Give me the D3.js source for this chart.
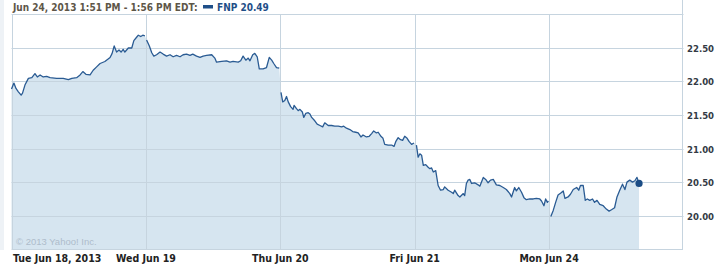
<!DOCTYPE html>
<html><head><meta charset="utf-8">
<script src="https://cdn.jsdelivr.net/npm/d3@7"></script>
<style>body{margin:0;background:#fff}svg{display:block}</style>
</head><body><svg id="c" width="723" height="264"></svg>
<script>
// ---- data ----
const headerText = "Jun 24, 2013 1:51 PM - 1:56 PM EDT:";
const seriesName = "FNP";
const lastValueLabel = "20.49";
const dayLabels = ["Tue Jun 18, 2013", "Wed Jun 19", "Thu Jun 20", "Fri Jun 21", "Mon Jun 24"];
const sessionMinutes = 390;
const priceTicks = [20.0, 20.5, 21.0, 21.5, 22.0, 22.5];
const priceTop = 23.0;
const copyright = "\u00A9 2013 Yahoo! Inc.";

// minutes since each session open, and prices
const tueMin = [0,7,13,20,28,32,39,49,59,68,75,83,92,102,112,131,150,165,175,189,199,207,216,228,237,247,257,271,286,292,298,305,312,318,324,329,339,349,355,363,368,375,381,387];
const tuePx  = [21.89,21.98,21.90,21.85,21.80,21.83,21.95,22.05,22.06,22.12,22.07,22.10,22.07,22.08,22.06,22.05,22.05,22.03,22.05,22.06,22.10,22.15,22.11,22.10,22.17,22.22,22.27,22.30,22.36,22.42,22.53,22.44,22.47,22.44,22.48,22.44,22.50,22.50,22.61,22.66,22.69,22.67,22.69,22.68];
const wedMin = [2,10,17,23,31,41,50,60,70,79,89,99,108,118,128,136,147,157,166,176,191,200,205,220,234,244,253,268,275,282,290,297,302,310,316,323,329,340,350,358,365,371,379,387];
const wedPx  = [22.62,22.53,22.43,22.38,22.40,22.44,22.41,22.38,22.40,22.37,22.39,22.37,22.40,22.41,22.39,22.41,22.38,22.36,22.38,22.39,22.40,22.35,22.29,22.30,22.31,22.29,22.30,22.29,22.31,22.38,22.32,22.35,22.31,22.40,22.42,22.37,22.19,22.19,22.21,22.36,22.32,22.27,22.21,22.20];
const thuMin = [2,7,13,18,23,30,37,40,47,52,57,64,68,74,81,86,91,100,107,115,123,129,139,149,158,168,178,184,192,202,210,219,226,234,240,250,258,265,271,279,284,292,298,303,313,323,330,335,342,349,355,361,368,374,381,388];
const thuPx  = [21.84,21.70,21.72,21.78,21.70,21.63,21.59,21.65,21.60,21.57,21.59,21.55,21.47,21.53,21.54,21.52,21.47,21.42,21.37,21.35,21.33,21.39,21.35,21.35,21.34,21.34,21.33,21.34,21.31,21.29,21.26,21.25,21.24,21.18,21.21,21.18,21.19,21.23,21.27,21.24,21.25,21.19,21.16,21.07,21.06,21.06,21.04,21.11,21.17,21.14,21.13,21.19,21.16,21.11,21.07,21.09];
const friMin = [5,10,15,20,25,32,39,44,49,54,61,68,75,83,87,97,107,112,116,126,131,141,145,150,155,160,165,174,184,189,199,206,213,220,228,237,247,257,266,276,281,290,295,302,310,317,324,334,344,353,363,368,375,380,385,388];
const friPx  = [21.06,20.88,20.93,20.91,20.76,20.77,20.73,20.71,20.72,20.66,20.68,20.46,20.39,20.40,20.44,20.39,20.36,20.34,20.39,20.31,20.29,20.34,20.31,20.49,20.54,20.55,20.49,20.50,20.47,20.45,20.58,20.55,20.50,20.54,20.55,20.47,20.46,20.43,20.40,20.34,20.29,20.43,20.38,20.43,20.36,20.28,20.25,20.26,20.26,20.27,20.26,20.23,20.16,20.26,20.21,20.23];
const monMin = [5,12,19,26,34,41,46,55,62,70,80,86,91,99,105,111,118,126,132,139,147,157,166,174,181,190,197,205,213,220,226,234,242,249,255,261];
const monPx  = [20.00,20.09,20.21,20.32,20.35,20.38,20.27,20.29,20.33,20.40,20.43,20.39,20.46,20.46,20.24,20.26,20.24,20.26,20.21,20.24,20.18,20.16,20.11,20.08,20.10,20.13,20.29,20.39,20.48,20.40,20.51,20.54,20.51,20.53,20.58,20.49];

const dayMinutes = [tueMin, wedMin, thuMin, friMin, monMin];
const dayPrices  = [tuePx, wedPx, thuPx, friPx, monPx];

// ---- layout ----
const L = 11.5, R = 683.5, T = 14, B = 249;
const svg = d3.select("#c");
const FONT = "'DejaVu Sans Condensed','DejaVu Sans',sans-serif";

const days = dayMinutes.map((mins, d) => mins.map((m, i) => ({t: d * sessionMinutes + m, v: dayPrices[d][i]})));
const all = days.flat();

const x = d3.scaleLinear().domain([0, dayLabels.length * sessionMinutes]).range([L, R]);
const y = d3.scaleLinear().domain([20, 22.5]).range([216.5, 48]);

// left strip
svg.append("rect").attr("x", 0).attr("y", 0).attr("width", 4).attr("height", 250).attr("fill", "#eef2f6");

// area fill
svg.append("path").datum(all)
  .attr("fill", "#d6e5f0")
  .attr("d", d3.area().x(d => x(d.t)).y0(B).y1(d => y(d.v)));

const gridC = "#c6d4df";
// horizontal grid
svg.append("g").selectAll("line").data(priceTicks).join("line")
  .attr("x1", L).attr("x2", R)
  .attr("y1", d => Math.floor(y(d)) + 0.5).attr("y2", d => Math.floor(y(d)) + 0.5)
  .attr("stroke", gridC);
// top border (23.00 line)
svg.append("line").attr("x1", L).attr("x2", R)
  .attr("y1", Math.floor(y(priceTop)) + 0.5).attr("y2", Math.floor(y(priceTop)) + 0.5).attr("stroke", gridC);
// vertical grid at session opens
svg.append("g").selectAll("line").data(dayLabels.map((_, i) => i * sessionMinutes)).join("line")
  .attr("x1", d => Math.round(x(d)) + 0.5).attr("x2", d => Math.round(x(d)) + 0.5)
  .attr("y1", Math.floor(y(priceTop)) + 0.5).attr("y2", B)
  .attr("stroke", gridC);
// right axis line and bottom border
svg.append("line").attr("x1", Math.floor(R) - 0.5).attr("x2", Math.floor(R) - 0.5).attr("y1", 0).attr("y2", B + 0.5).attr("stroke", gridC);
svg.append("line").attr("x1", L).attr("x2", Math.floor(R)).attr("y1", B + 0.5).attr("y2", B + 0.5).attr("stroke", gridC);

// price line, broken between sessions
const line = d3.line().x(d => x(d.t)).y(d => y(d.v));
svg.append("g").selectAll("path").data(days).join("path")
  .attr("fill", "none").attr("stroke", "#2a5b93").attr("stroke-width", 1.3)
  .attr("stroke-linejoin", "round").attr("d", line);

// last point dot
const last = all[all.length - 1];
svg.append("circle").attr("cx", x(last.t)).attr("cy", y(last.v)).attr("r", 3.6).attr("fill", "#1b4c85");

// y labels
svg.append("g").selectAll("text").data(priceTicks).join("text")
  .attr("x", 687).attr("y", d => y(d) + 3.5)
  .attr("font-family", FONT).attr("font-weight", "bold").attr("font-size", 9.5)
  .attr("fill", "#333a44").text(d => d3.format(".2f")(d));

// x labels
svg.append("g").selectAll("text").data(dayLabels).join("text")
  .attr("x", (d, i) => i === 0 ? 13 : x(i * sessionMinutes))
  .attr("text-anchor", (d, i) => i === 0 ? "start" : "middle")
  .attr("y", 262)
  .attr("font-family", FONT).attr("font-weight", "bold").attr("font-size", 10.5)
  .attr("fill", "#222").text(d => d);

// copyright
svg.append("text").attr("x", 16).attr("y", 245)
  .attr("font-family", "'Liberation Sans',Arial,sans-serif").attr("font-size", 9.5)
  .attr("fill", "#aebccb").text(copyright);

// header
svg.append("text").attr("x", 13).attr("y", 11)
  .attr("font-family", FONT).attr("font-weight", "bold").attr("font-size", 10)
  .attr("fill", "#5e5648").text(headerText);
svg.append("rect").attr("x", 203).attr("y", 5).attr("width", 10).attr("height", 3.5).attr("fill", "#1f4f88");
svg.append("text").attr("x", 217).attr("y", 11)
  .attr("font-family", FONT).attr("font-weight", "bold").attr("font-size", 10)
  .attr("fill", "#1f4f88").text(seriesName + " " + lastValueLabel);
</script></body></html>
